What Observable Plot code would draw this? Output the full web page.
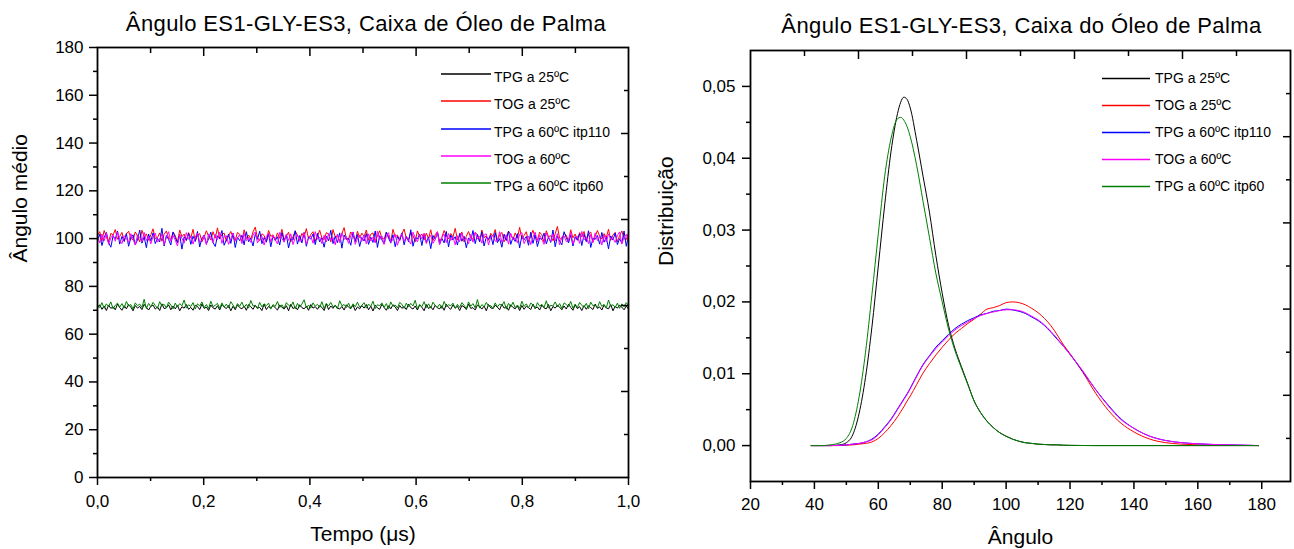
<!DOCTYPE html>
<html>
<head>
<meta charset="utf-8">
<script src="https://cdn.jsdelivr.net/npm/d3@7"></script>
<script src="https://cdn.jsdelivr.net/npm/@observablehq/plot@0.6"></script>
<style>
  html, body { margin: 0; padding: 0; background: #fff; }
  #wrap { position: relative; width: 1294px; height: 549px; background: #fff; overflow: hidden; font-family: "Liberation Sans", Arial, sans-serif; }
  #left, #right { position: absolute; top: 0; }
  #left { left: 0; }
  #right { left: 647px; }
  g.ttl text { letter-spacing: 0.4px; }
</style>
</head>
<body>
<div id="wrap">
  <div id="left"></div>
  <div id="right"></div>
</div>
<script>
// ---------- Text ----------
const leftTitle = "Ângulo ES1-GLY-ES3, Caixa de Óleo de Palma";
const rightTitle = "Ângulo ES1-GLY-ES3, Caixa do Óleo de Palma";
const leftXLabel = "Tempo (μs)";
const leftYLabel = "Ângulo médio";
const rightXLabel = "Ângulo";
const rightYLabel = "Distribuição";
const seriesNames = ["TPG a 25ºC", "TOG a 25ºC", "TPG a 60ºC itp110", "TOG a 60ºC", "TPG a 60ºC itp60"];
const seriesColors = ["#000000", "#ff0000", "#0000ff", "#ff00ff", "#008000"];

// ---------- Ticks ----------
const leftXTicks = [0, 0.2, 0.4, 0.6, 0.8, 1.0];
const leftXMinor = [0.1, 0.3, 0.5, 0.7, 0.9];
const leftYTicks = [0, 20, 40, 60, 80, 100, 120, 140, 160, 180];
const leftYMinor = [10, 30, 50, 70, 90, 110, 130, 150, 170];
const rightXTicks = [20, 40, 60, 80, 100, 120, 140, 160, 180];
const rightXMinor = [30, 50, 70, 90, 110, 130, 150, 170];
const rightYTicks = [0, 0.01, 0.02, 0.03, 0.04, 0.05];
const rightYMinor = [0.005, 0.015, 0.025, 0.035, 0.045];
// mirrored (top/right) axes: ten equal divisions of the frame
const mirrorMajor = [0.2, 0.4, 0.6, 0.8];
const mirrorMinor = [0.1, 0.3, 0.5, 0.7, 0.9];

// ---------- Left panel: mean angle vs time ----------
const tpg25Time = [
71.0,72.3,70.4,71.8,69.9,72.1,70.8,71.5,70.2,72.6,71.1,70.0,71.9,70.6,72.4,71.3,69.8,72.0,70.9,71.6,
70.3,72.5,71.2,70.1,71.7,72.2,70.5,71.4,69.9,72.7,70.7,71.0,72.3,70.2,71.8,70.6,72.0,69.8,71.5,70.9,
72.4,70.4,71.2,70.0,72.1,71.6,70.3,72.6,70.8,71.3,69.9,72.2,71.0,70.5,71.9,70.1,72.5,71.4,70.7,72.0,
69.8,71.7,70.2,72.3,71.1,70.6,71.8,70.0,72.4,71.5,70.4,72.1,70.9,71.2,69.9,72.6,70.3,71.6,70.8,72.0,
71.0,70.1,72.2,71.3,70.5,71.9,69.8,72.5,70.7,71.4,70.2,72.3,71.1,70.6,71.7,70.0,72.4,70.9,71.5,70.4,
72.0,71.2,69.9,72.7,70.3,71.8,70.8,72.1,71.0,70.5,71.6,70.1,72.3,71.3,70.7,72.2,69.9,71.4,70.6,72.0,
70.9,72.4,70.2,71.7,69.7,72.1,71.0,70.4,72.5,71.2,70.0,71.9,70.6,72.3,71.4,69.9,72.0,70.8,71.6,70.3,
72.6,71.1,70.5,71.8,70.1,72.2,71.3,69.8,72.4,70.7,71.5,70.2,72.1,71.0,70.6,71.9,70.0,72.5,71.2,70.4,
72.3,70.9,71.7,69.9,72.0,71.4,70.3,72.6,70.8,71.1,70.1,72.2,71.6,70.5,71.8,69.8,72.4,71.0,70.7,72.1,
71.3,70.2,72.5,70.9,71.5,70.0,72.3,71.2,70.6,71.9,69.9,72.0,70.4,71.7,71.1,70.3,72.6,70.8,71.4,70.1,
72.2,71.0,70.6,72.4,69.8,71.6,70.9,72.1,71.3,70.2,71.8,70.5,72.5,71.2,70.0,72.3,70.7,71.5,69.9,72.0,
70.4,71.9,71.1,70.3,72.6,70.8,71.4,70.1,72.2,71.0,70.6,72.4,69.8,71.7,70.9,72.1,71.3,70.2,71.8,70.5];
const tog25Time = [
101.2,102.9,99.1,103.4,100.6,98.4,102.2,101.5,103.8,99.7,100.9,102.6,98.8,101.9,103.1,100.2,99.4,102.8,101.1,98.6,
103.5,100.7,102.0,99.3,101.6,104.1,99.9,100.4,102.4,98.9,101.8,103.2,100.1,99.6,102.7,101.3,98.5,103.6,100.8,101.9,
99.2,102.5,100.3,103.9,99.0,101.4,102.1,98.7,100.6,103.3,101.0,99.5,102.9,100.2,104.5,99.8,101.7,102.3,98.9,101.2,
103.0,100.5,99.3,102.6,101.8,98.6,103.7,100.0,101.5,99.7,102.8,104.8,100.4,99.1,102.0,101.3,98.8,103.4,100.9,101.6,
99.4,102.4,100.1,103.9,99.6,101.1,102.7,98.7,100.8,103.2,101.4,99.2,102.2,100.6,104.2,99.9,101.7,102.9,98.9,101.0,
103.5,100.3,99.5,102.5,101.9,98.6,103.8,100.7,101.2,99.0,102.1,104.6,100.0,99.7,102.8,101.5,98.8,103.1,100.4,102.3,
100.9,103.6,99.3,101.8,102.4,98.5,101.1,103.3,100.2,99.8,102.7,101.0,98.9,103.9,100.6,101.5,99.2,102.0,104.0,100.1,
99.6,102.6,101.3,98.7,103.2,100.8,101.9,99.4,102.3,100.0,103.7,99.1,101.6,102.9,98.8,100.5,103.4,101.2,99.9,102.1,
100.7,104.3,99.5,101.4,102.8,98.6,101.0,103.0,100.3,99.7,102.5,101.7,98.9,103.6,100.4,101.1,99.3,102.2,100.9,103.8,
99.0,101.5,102.6,98.7,100.6,103.1,101.8,99.6,102.4,100.2,104.7,99.8,101.3,102.9,98.8,101.0,103.5,100.5,99.4,102.7,
101.6,98.5,103.3,100.8,101.2,99.1,102.0,105.1,100.1,99.7,102.3,101.4,98.9,103.7,100.3,101.9,99.5,102.5,100.7,103.0,
99.2,101.8,102.8,98.6,100.9,103.4,101.1,99.8,102.1,100.4,103.9,99.3,101.5,102.6,98.7,101.2,103.2,100.0,99.6,102.4];
const tpg60itp110Time = [
99.2,101.8,97.1,100.5,102.6,98.3,96.4,101.1,99.8,103.2,97.7,100.9,98.9,102.1,96.8,100.3,101.6,97.5,99.4,103.6,
98.1,100.7,96.2,101.9,99.0,102.4,97.9,100.1,98.6,104.3,96.9,101.3,99.6,97.3,102.8,100.4,98.2,101.7,95.6,100.8,
99.3,102.2,97.6,101.0,98.8,103.0,96.5,100.2,101.5,97.8,99.9,102.7,98.4,96.7,101.2,100.0,103.4,97.2,99.5,101.9,
98.0,102.3,96.3,100.6,99.1,101.4,97.4,102.9,98.7,100.2,96.9,101.8,99.7,103.1,97.9,100.4,98.5,102.0,96.6,101.1,
99.2,100.8,97.3,102.5,98.9,101.6,96.1,100.0,99.4,103.3,97.7,101.3,98.2,102.6,96.8,100.7,99.8,101.9,97.5,102.2,
98.6,100.3,96.4,101.0,99.1,103.5,97.9,100.9,98.3,102.4,96.0,101.5,99.6,100.1,97.2,102.8,98.8,101.7,96.7,100.5,
99.0,102.1,97.6,100.6,98.4,103.2,96.3,101.2,99.5,97.8,102.7,100.2,98.1,101.6,96.6,100.9,99.3,102.4,97.4,101.1,
98.7,103.7,96.8,100.4,99.9,101.8,97.1,102.0,98.5,100.7,95.8,101.3,99.7,102.6,97.7,100.1,98.2,103.0,96.5,101.5,
99.4,100.8,97.3,102.2,98.9,101.0,96.2,100.3,99.1,103.4,97.9,101.7,98.6,102.8,96.9,100.6,99.8,101.4,97.5,102.5,
98.3,100.0,96.4,101.9,99.2,103.1,97.6,100.5,98.8,102.1,96.1,101.2,99.5,100.9,97.2,102.7,98.0,101.6,96.7,100.2,
99.6,102.3,97.8,100.7,98.4,103.6,96.6,101.0,99.0,97.4,102.9,100.4,98.2,101.5,96.9,100.8,99.3,102.0,97.1,101.8,
98.7,103.3,96.3,100.1,99.7,101.3,97.7,102.6,98.5,100.6,95.7,101.1,99.4,102.4,97.5,100.0,98.1,103.2,96.8,101.4];
const tog60Time = [
100.8,98.2,101.9,99.1,102.4,97.6,100.3,101.7,98.9,102.8,99.5,97.9,101.2,100.1,98.4,102.1,99.8,97.3,101.5,100.6,
98.7,102.6,99.2,101.0,97.8,100.9,102.3,98.5,99.9,101.8,97.5,100.4,102.9,98.8,101.3,99.4,96.9,101.6,100.2,98.1,
102.5,99.7,101.1,97.7,100.7,102.2,98.6,99.3,101.4,97.4,102.0,100.5,98.3,101.9,99.6,102.7,98.0,100.8,101.2,97.6,
99.9,102.4,98.9,100.3,101.7,97.9,102.1,99.1,100.6,98.4,101.5,102.8,98.2,99.8,101.0,97.3,100.9,102.3,98.7,101.3,
99.5,97.8,102.6,100.1,98.5,101.8,99.2,102.0,97.5,100.4,101.6,98.8,99.4,102.5,97.7,100.2,101.1,98.1,102.9,99.7,
100.7,97.9,101.4,98.6,102.2,99.3,100.5,97.4,101.9,98.3,102.4,99.6,100.8,98.0,101.2,102.7,97.6,100.0,101.5,98.9,
101.3,97.8,102.0,99.0,100.6,98.2,103.1,99.5,101.1,97.6,100.9,102.5,98.4,99.7,101.8,97.2,100.3,102.2,98.8,101.0,
99.3,97.7,102.7,100.4,98.6,101.6,99.9,102.3,97.9,100.1,101.4,98.0,99.6,102.8,97.5,100.5,101.9,98.3,102.1,99.2,
100.8,97.4,101.2,98.7,102.4,99.4,100.2,97.8,101.7,98.5,102.6,99.8,100.9,98.1,101.5,102.0,97.3,100.7,101.3,98.9,
99.1,102.9,98.4,100.0,101.6,97.7,102.2,99.5,100.4,98.2,101.8,102.5,97.9,99.9,101.1,97.5,100.6,102.7,98.6,101.4,
99.7,97.6,102.3,100.3,98.8,101.9,99.0,102.1,97.4,100.8,101.2,98.7,99.3,102.6,97.8,100.1,101.0,98.0,103.0,99.6,
100.5,97.9,101.7,98.3,102.4,99.2,100.9,97.3,101.5,98.6,102.0,99.8,100.2,98.4,101.3,102.8,97.7,100.6,101.8,98.9];
const tpg60itp60Time = [
72.3,71.1,73.2,70.8,72.7,71.6,73.5,70.6,72.1,73.0,71.3,72.8,70.9,73.7,71.8,72.4,70.5,73.1,71.9,72.6,
71.2,74.6,70.7,72.9,71.5,73.3,72.0,70.8,73.6,71.7,72.5,71.0,73.4,72.2,70.6,73.0,71.4,72.8,71.9,74.3,
70.9,72.3,71.6,73.2,70.5,72.7,71.8,73.5,71.1,72.4,70.7,73.8,71.5,72.1,72.9,70.8,73.1,71.3,72.6,71.0,
73.6,72.2,70.6,72.8,71.7,73.4,71.2,72.5,70.9,74.1,71.8,72.0,70.7,73.3,71.4,72.7,71.9,73.0,70.5,72.4,
71.6,73.7,71.1,72.3,70.8,73.2,72.1,71.5,73.5,70.6,72.9,71.3,72.6,74.4,71.0,72.2,70.9,73.1,71.7,72.5,
71.2,73.6,70.7,72.8,71.8,73.3,71.4,72.0,70.6,74.0,71.9,72.4,71.1,73.0,70.8,72.7,71.5,73.4,71.3,72.1,
73.2,70.9,72.6,71.6,73.8,70.7,72.3,71.9,73.1,71.2,72.8,70.5,73.5,71.7,72.2,71.0,73.3,72.5,70.8,73.0,
71.4,72.9,71.8,74.2,70.6,72.4,71.5,73.6,71.1,72.7,70.9,73.4,72.0,71.3,72.6,70.7,73.7,71.6,72.3,71.9,
73.0,70.8,72.5,71.2,73.2,72.1,70.6,73.5,71.7,72.8,71.0,74.5,70.9,72.4,71.5,73.3,71.8,72.0,70.7,73.1,
71.4,72.6,71.9,73.6,70.5,72.9,71.3,73.4,71.1,72.2,70.8,73.8,71.6,72.7,71.0,73.0,72.3,70.6,73.2,71.7,
72.5,71.2,74.0,70.9,72.1,71.8,73.5,71.4,72.8,70.7,73.1,72.4,71.5,73.7,70.8,72.6,71.1,73.3,72.0,71.3,
72.9,70.6,73.4,71.9,72.2,71.0,73.6,71.6,72.5,70.9,74.3,71.7,72.3,71.2,73.0,70.8,72.7,71.5,73.2,72.1];

// ---------- Right panel: angle distributions ----------
const angles = [39,42,45,48,50,52,54,56,58,60,62,64,66,67,68,69,70,72,74,76,78,80,82,84,86,88,90,92,94,96,98,100,102,104,106,108,110,112,114,116,118,120,124,128,132,136,140,145,150,155,160,165,170,175,179];
const tpg25Dist = [0,0,0,0.0001,0.0004,0.0015,0.0045,0.0095,0.0165,0.0250,0.0335,0.0410,0.0462,0.0478,0.0485,0.0482,0.0470,0.0425,0.0375,0.0325,0.0265,0.0212,0.0167,0.0135,0.0110,0.0086,0.0062,0.0046,0.0034,0.0025,0.0018,0.0013,0.0009,0.0006,0.0004,0.0003,0.0002,0.00015,0.0001,0.0001,0.00005,0.00003,0.00001,0,0,0,0,0,0,0,0,0,0,0,0];
const tog25Dist = [0,0,0,0,0.00005,0.0001,0.0002,0.0003,0.0005,0.0010,0.0018,0.0028,0.0040,0.0047,0.0054,0.0062,0.0069,0.0085,0.0101,0.0114,0.0126,0.0137,0.0147,0.0156,0.0163,0.0170,0.0176,0.0183,0.0190,0.0192,0.0195,0.0199,0.0200,0.0199,0.0196,0.0191,0.0185,0.0177,0.0167,0.0154,0.0140,0.0128,0.0102,0.0073,0.0049,0.0031,0.0019,0.0009,0.0004,0.0002,0.0001,0.00005,0.00003,0.00001,0];
const tpg60itp110Dist = [0,0,0,0.00003,0.0001,0.0002,0.0003,0.0005,0.0009,0.0016,0.0026,0.0037,0.0051,0.0058,0.0065,0.0072,0.0080,0.0097,0.0113,0.0125,0.0137,0.0146,0.0155,0.0163,0.0169,0.0174,0.0178,0.0182,0.0184,0.0187,0.0188,0.0190,0.0189,0.0187,0.0184,0.0179,0.0174,0.0167,0.0158,0.0148,0.0138,0.0127,0.0103,0.0078,0.0056,0.0037,0.0024,0.0013,0.0007,0.0004,0.00025,0.00015,0.0001,0.00005,0];
const tog60Dist = [0,0,0,0.00003,0.0001,0.0002,0.0003,0.0005,0.0008,0.0015,0.0025,0.0036,0.0050,0.0057,0.0064,0.0071,0.0079,0.0096,0.0112,0.0124,0.0135,0.0144,0.0153,0.0161,0.0167,0.0172,0.0177,0.0181,0.0184,0.0186,0.0188,0.0189,0.0189,0.0188,0.0185,0.0180,0.0175,0.0168,0.0159,0.0149,0.0138,0.0127,0.0104,0.0078,0.0055,0.0036,0.0024,0.0013,0.0007,0.0004,0.00025,0.00015,0.0001,0.00005,0];
const tpg60itp60Dist = [0,0,0.0001,0.0004,0.0010,0.0028,0.0068,0.0130,0.0210,0.0295,0.0375,0.0428,0.0455,0.0457,0.0453,0.0444,0.0430,0.0390,0.0340,0.0290,0.0240,0.0200,0.0162,0.0132,0.0108,0.0085,0.0062,0.0046,0.0034,0.0025,0.0018,0.0013,0.0009,0.0006,0.0004,0.0003,0.0002,0.00015,0.0001,0.0001,0.00005,0.00003,0.00001,0,0,0,0,0,0,0,0,0,0,0,0];

const timeSeries = [tpg25Time, tog25Time, tpg60itp110Time, tog60Time, tpg60itp60Time];
const distSeries = [tpg25Dist, tog25Dist, tpg60itp110Dist, tog60Dist, tpg60itp60Dist];

// ---------- Helpers ----------
const FONT = "'Liberation Sans', Arial, Helvetica, sans-serif";
const fmt1 = d => d.toFixed(1).replace(".", ",");
const fmt2 = d => d.toFixed(2).replace(".", ",");
const blank = () => "";
const lerp = (dom, f) => dom[0] + f * (dom[1] - dom[0]);

function frameAxes(xDom, yDom, xTicks, xMinor, yTicks, yMinor, xFmt, yFmt, pad) {
  return [
    Plot.axisX({ticks: xTicks, tickSize: 8, tickPadding: pad.x, tickFormat: xFmt, label: null, strokeWidth: 1.5}),
    Plot.axisX({ticks: xMinor, tickSize: 4, tickFormat: blank, label: null, strokeWidth: 1.5}),
    Plot.axisY({ticks: yTicks, tickSize: 8, tickPadding: pad.y, tickFormat: yFmt, label: null, strokeWidth: 1.5}),
    Plot.axisY({ticks: yMinor, tickSize: 4, tickFormat: blank, label: null, strokeWidth: 1.5}),
    Plot.axisX({anchor: "top", ticks: mirrorMajor.map(f => lerp(xDom, f)), tickSize: 8, dy: 8, tickFormat: blank, label: null, strokeWidth: 1.5}),
    Plot.axisX({anchor: "top", ticks: mirrorMinor.map(f => lerp(xDom, f)), tickSize: 5, dy: 5, tickFormat: blank, label: null, strokeWidth: 1.5}),
    Plot.axisY({anchor: "right", ticks: mirrorMajor.map(f => lerp(yDom, f)), tickSize: 8, dx: -8, tickFormat: blank, label: null, strokeWidth: 1.5}),
    Plot.axisY({anchor: "right", ticks: mirrorMinor.map(f => lerp(yDom, f)), tickSize: 5, dx: -5, tickFormat: blank, label: null, strokeWidth: 1.5}),
    Plot.frame({strokeWidth: 1.8})
  ];
}

function labels(title, xLabel, yLabel, o) {
  return [
    Plot.text([title], {text: d => d, frameAnchor: "top", dy: o.titleDy, dx: o.titleDx, fontSize: 22, lineAnchor: "middle", className: "ttl", fill: "#000"}),
    Plot.text([xLabel], {text: d => d, frameAnchor: "bottom", dy: o.xDy, fontSize: 21, lineAnchor: "middle", fill: "#000"}),
    Plot.text([yLabel], {text: d => d, frameAnchor: "left", dx: o.yDx, rotate: -90, fontSize: 21, lineAnchor: "middle", fill: "#000"})
  ];
}

// ---------- Left plot ----------
const leftXDom = [0, 1], leftYDom = [0, 180];
const leftPlot = Plot.plot({
  width: 647, height: 549,
  marginLeft: 97, marginRight: 19, marginTop: 47, marginBottom: 72,
  style: {fontFamily: FONT, fontSize: "17px", color: "#000", background: "transparent", overflow: "visible"},
  x: {domain: leftXDom},
  y: {domain: leftYDom},
  marks: [
    ...timeSeries.map((vals, k) => Plot.line(vals, {x: (d, i) => i / (vals.length - 1), y: d => d, stroke: seriesColors[k], strokeWidth: 1})),
    ...frameAxes(leftXDom, leftYDom, leftXTicks, leftXMinor, leftYTicks, leftYMinor, fmt1, String, {x: 9, y: 6}),
    ...labels(leftTitle, leftXLabel, leftYLabel, {titleDy: -23.5, titleDx: 3, xDy: 57, yDx: -77})
  ]
});
document.getElementById("left").appendChild(leftPlot);

// ---------- Right plot ----------
const rightXDom = [20, 189], rightYDom = [-0.005, 0.055];
const rightPlot = Plot.plot({
  width: 647, height: 549,
  marginLeft: 103, marginRight: 4, marginTop: 50, marginBottom: 68,
  style: {fontFamily: FONT, fontSize: "17px", color: "#000", background: "transparent", overflow: "visible"},
  x: {domain: rightXDom},
  y: {domain: rightYDom},
  marks: [
    ...distSeries.map((vals, k) => Plot.line(angles, {x: d => d, y: (d, i) => vals[i], stroke: seriesColors[k], strokeWidth: 1, curve: "monotone-x"})),
    ...frameAxes(rightXDom, rightYDom, rightXTicks, rightXMinor, rightYTicks, rightYMinor, String, fmt2, {x: 8, y: 7}),
    ...labels(rightTitle, rightXLabel, rightYLabel, {titleDy: -24.7, titleDx: 1, xDy: 56, yDx: -84})
  ]
});
document.getElementById("right").appendChild(rightPlot);

// ---------- Legends (inside each frame) ----------
const SVGNS = "http://www.w3.org/2000/svg";
function addLegend(o) {
  const box = document.createElement("div");
  box.style.cssText = `position:absolute;left:${o.left}px;top:${o.top}px;font:14px ${FONT};color:#000;`;
  seriesNames.forEach((name, i) => {
    const row = document.createElement("div");
    row.style.cssText = `position:absolute;left:0;top:${(i * o.step).toFixed(1)}px;height:16px;display:flex;align-items:center;white-space:nowrap;`;
    const svg = document.createElementNS(SVGNS, "svg");
    svg.setAttribute("width", o.lineW);
    svg.setAttribute("height", 16);
    svg.style.marginRight = o.gap + "px";
    svg.style.display = "block";
    const ln = document.createElementNS(SVGNS, "line");
    ln.setAttribute("x1", 0); ln.setAttribute("x2", o.lineW);
    ln.setAttribute("y1", 8 + o.lineShift); ln.setAttribute("y2", 8 + o.lineShift);
    ln.setAttribute("stroke", seriesColors[i]);
    ln.setAttribute("stroke-width", 1.5);
    svg.appendChild(ln);
    const tx = document.createElement("span");
    tx.textContent = name;
    row.appendChild(svg);
    row.appendChild(tx);
    box.appendChild(row);
  });
  document.getElementById("wrap").appendChild(box);
}
addLegend({left: 441, top: 69, step: 27.3, lineW: 50, gap: 3, lineShift: -3});
addLegend({left: 1102, top: 69.5, step: 27.1, lineW: 48, gap: 5, lineShift: 0.5});
</script>
</body>
</html>
